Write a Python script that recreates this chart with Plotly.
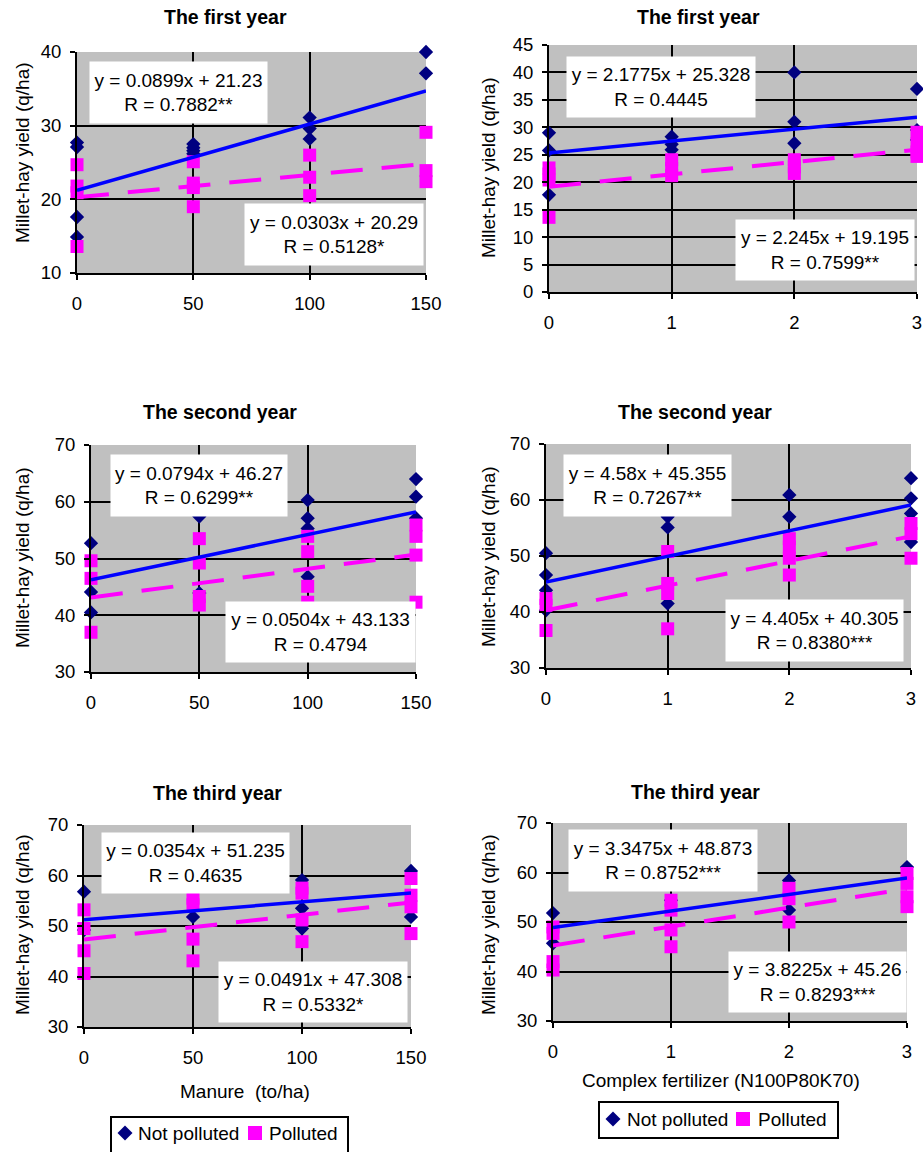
import plotly.graph_objects as go

W, H = 923, 1152

# ---------------- data ----------------
manure_doses = [0, 50, 100, 150]
fert_doses = [0, 1, 2, 3]
year_titles = ["The first year", "The second year", "The third year"]

# replicate yields (q/ha) per dose
manure_y1_not = [[27.7, 27.1, 17.6, 14.9], [27.5, 27.0, 26.6, 26.2], [31.1, 29.6, 28.2], [40.0, 37.1]]
manure_y1_pol = [[24.7, 21.8, 20.9, 13.6], [25.1, 22.2, 21.6, 19.0], [26.0, 23.0, 20.5], [29.1, 23.9, 22.4]]
fert_y1_not = [[29.0, 25.8, 17.7], [28.3, 26.9, 25.9], [40.0, 31.0, 27.1], [37.0, 29.5, 27.7]]
fert_y1_pol = [[22.6, 21.5, 20.4, 13.6], [24.1, 22.5, 21.2], [24.1, 22.8, 21.6], [29.1, 27.0, 25.5, 24.7]]

manure_y2_not = [[52.7, 44.1, 40.5], [57.4, 43.9], [60.3, 57.1, 55.3, 46.8], [64.0, 60.9, 57.1]]
manure_y2_pol = [[49.6, 46.5, 37.0], [53.5, 49.2, 43.3, 41.8], [53.9, 51.2, 45.1, 42.3], [55.9, 53.9, 50.6, 42.3]]
fert_y2_not = [[50.5, 46.6, 43.9, 40.3], [57.0, 55.1, 41.5], [60.9, 57.0], [63.9, 60.3, 57.6, 52.5]]
fert_y2_pol = [[42.4, 41.2, 36.7], [50.8, 45.1, 43.3, 37.0], [53.1, 51.6, 49.6, 46.6], [55.8, 54.0, 49.6]]

manure_y3_not = [[56.8, 49.2], [51.8], [59.1, 53.5, 49.5], [60.9, 51.8]]
manure_y3_pol = [[53.2, 49.5, 45.1, 40.6], [55.5, 54.2, 47.4, 43.1], [57.5, 56.5, 51.2, 46.9], [59.4, 56.1, 53.8, 48.5]]
fert_y3_not = [[51.8, 45.7], [54.4], [58.4, 52.4], [61.1]]
fert_y3_pol = [[49.0, 47.7, 42.0, 40.3], [54.4, 52.4, 48.4, 45.0], [56.8, 54.7, 50.0], [59.8, 57.8, 55.1, 53.1]]

# linear trends (per year)
manure_slope_not = [0.0899, 0.0794, 0.0354]
manure_icpt_not = [21.23, 46.27, 51.235]
manure_r_not = ["0.7882**", "0.6299**", "0.4635"]
manure_slope_pol = [0.0303, 0.0504, 0.0491]
manure_icpt_pol = [20.29, 43.133, 47.308]
manure_r_pol = ["0.5128*", "0.4794", "0.5332*"]
fert_slope_not = [2.1775, 4.58, 3.3475]
fert_icpt_not = [25.328, 45.355, 48.873]
fert_r_not = ["0.4445", "0.7267**", "0.8752***"]
fert_slope_pol = [2.245, 4.405, 3.8225]
fert_icpt_pol = [19.195, 40.305, 45.26]
fert_r_pol = ["0.7599**", "0.8380***", "0.8293***"]

legend_names = ["Not polluted", "Polluted"]
y_title = "Millet-hay yield (q/ha)"
x_titles = ["Manure\u00a0 (to/ha)", "Complex fertilizer (N100P80K70)"]

# y-axis ranges per panel
y_ranges = [[10, 40], [0, 45], [30, 70], [30, 70], [30, 70], [30, 70]]
y_dticks = [10, 5, 10, 10, 10, 10]

# ---------------- layout geometry (pixels) ----------------
domains_px = [  # (left, right, top, bottom)
    (77, 426, 52, 273), (549, 917, 45, 292),
    (91, 416, 445, 672), (546, 911, 444, 668),
    (84, 411, 825, 1027), (553, 907, 823, 1021),
]
boxes_not_px = [(90, 62, 267, 123), (567, 57, 755, 117), (111, 455, 287, 516),
                (564, 455, 731, 516), (102, 833, 289, 893), (569, 830, 757, 891)]
boxes_pol_px = [(245, 204, 423, 265), (736, 220, 914, 280), (226, 602, 415, 662),
                (726, 600, 903, 661), (219, 962, 407, 1022), (729, 952, 906, 1012)]
title_px = [(225, 17), (698, 17), (220, 412), (695, 412), (217, 793), (695, 792)]
ytitle_px = [(22, 153), (488, 168), (22, 558), (488, 557), (22, 925), (488, 925)]
xtitle_px = [(245, 1091), (721, 1080)]
# legend boxes: (left, top, right, bottom), symbol/text x positions, text centre y
legend_box_px = [(111, 1117, 348, 1156), (599, 1102, 838, 1138)]
legend_items_px = [  # (diamond cx, text1 x, square cx, text2 x, cy)
    (125, 136, 255, 267, 1133), (613, 625, 743, 756, 1119)]

FONT = "Liberation Sans, Arial, sans-serif"
NAVY = "#000080"
MAG = "#FF00FF"
BLUE = "#0000FF"


def fx(x):
    return x / W


def fy(y):
    return 1 - y / H


fig = go.Figure()

panels = []
for r in range(3):
    panels.append(("manure", r))
    panels.append(("fert", r))

data_not = {("manure", 0): manure_y1_not, ("manure", 1): manure_y2_not, ("manure", 2): manure_y3_not,
            ("fert", 0): fert_y1_not, ("fert", 1): fert_y2_not, ("fert", 2): fert_y3_not}
data_pol = {("manure", 0): manure_y1_pol, ("manure", 1): manure_y2_pol, ("manure", 2): manure_y3_pol,
            ("fert", 0): fert_y1_pol, ("fert", 1): fert_y2_pol, ("fert", 2): fert_y3_pol}

annotations = []
shapes = []
for i, (kind, r) in enumerate(panels):
    n = i + 1
    xref = "x" if n == 1 else f"x{n}"
    yref = "y" if n == 1 else f"y{n}"
    doses = manure_doses if kind == "manure" else fert_doses
    if kind == "manure":
        s_n, b_n, r_n = manure_slope_not[r], manure_icpt_not[r], manure_r_not[r]
        s_p, b_p, r_p = manure_slope_pol[r], manure_icpt_pol[r], manure_r_pol[r]
    else:
        s_n, b_n, r_n = fert_slope_not[r], fert_icpt_not[r], fert_r_not[r]
        s_p, b_p, r_p = fert_slope_pol[r], fert_icpt_pol[r], fert_r_pol[r]

    def flat(lst):
        xs, ys = [], []
        for d, vals in zip(doses, lst):
            for v in vals:
                xs.append(d)
                ys.append(v)
        return xs, ys

    xn, yn = flat(data_not[(kind, r)])
    xp, yp = flat(data_pol[(kind, r)])
    fig.add_trace(go.Scatter(x=xn, y=yn, mode="markers", name=legend_names[0],
                             marker=dict(symbol="diamond", size=11, color=NAVY),
                             cliponaxis=False, showlegend=False,
                             xaxis=xref, yaxis=yref))
    fig.add_trace(go.Scatter(x=xp, y=yp, mode="markers", name=legend_names[1],
                             marker=dict(symbol="square", size=13, color=MAG),
                             cliponaxis=False, showlegend=False,
                             xaxis=xref, yaxis=yref))
    x0, x1 = doses[0], doses[-1]
    fig.add_trace(go.Scatter(x=[x0, x1], y=[b_n + s_n * x0, b_n + s_n * x1], mode="lines",
                             line=dict(color=BLUE, width=3.5), showlegend=False,
                             cliponaxis=False, xaxis=xref, yaxis=yref))
    fig.add_trace(go.Scatter(x=[x0, x1], y=[b_p + s_p * x0, b_p + s_p * x1], mode="lines",
                             line=dict(color=MAG, width=4, dash="32px,19px"), showlegend=False,
                             cliponaxis=False, xaxis=xref, yaxis=yref))

    L, R, T, B = domains_px[i]
    axis_common = dict(showgrid=True, gridcolor="black", gridwidth=2,
                       showline=True, linecolor="black", linewidth=2,
                       ticks="outside", ticklen=5, tickwidth=2, tickcolor="black",
                       tickfont=dict(family=FONT, size=18.5, color="black"),
                       zeroline=False, automargin=False, fixedrange=True)
    xkey = "xaxis" if n == 1 else f"xaxis{n}"
    ykey = "yaxis" if n == 1 else f"yaxis{n}"
    fig.update_layout({
        xkey: dict(domain=[fx(L), fx(R)], range=[doses[0], doses[-1]],
                   tickmode="array", tickvals=doses, anchor=yref,
                   ticklabelstandoff=8, **axis_common),
        ykey: dict(domain=[fy(B), fy(T)], range=y_ranges[i], dtick=y_dticks[i], tick0=0,
                   anchor=xref, ticklabelstandoff=5, **axis_common),
    })

    for (bx0, by0, bx1, by1), txt in [
        (boxes_not_px[i], f"y = {s_n:g}x + {b_n:g}<br>R = {r_n}"),
        (boxes_pol_px[i], f"y = {s_p:g}x + {b_p:g}<br>R = {r_p}"),
    ]:
        annotations.append(dict(
            xref="paper", yref="paper", x=fx((bx0 + bx1) / 2), y=fy((by0 + by1) / 2),
            xanchor="center", yanchor="middle", text=txt, showarrow=False,
            width=bx1 - bx0, height=by1 - by0, bgcolor="white", borderpad=0,
            align="center", valign="middle",
            font=dict(family=FONT, size=19, color="black")))

    tx, ty = title_px[i]
    annotations.append(dict(xref="paper", yref="paper", x=fx(tx), y=fy(ty),
                            xanchor="center", yanchor="middle", showarrow=False,
                            text=f"<b>{year_titles[r]}</b>",
                            font=dict(family=FONT, size=19.5, color="black")))
    yx, yy = ytitle_px[i]
    annotations.append(dict(xref="paper", yref="paper", x=fx(yx), y=fy(yy),
                            xanchor="center", yanchor="middle", showarrow=False,
                            textangle=-90, text=y_title,
                            font=dict(family=FONT, size=19, color="black")))

for (tx, ty), txt in zip(xtitle_px, x_titles):
    annotations.append(dict(xref="paper", yref="paper", x=fx(tx), y=fy(ty),
                            xanchor="center", yanchor="middle", showarrow=False,
                            text=txt, font=dict(family=FONT, size=19, color="black")))

# legends (one under each column)
for (lx0, ly0, lx1, ly1), (dcx, t1x, scx, t2x, cy) in zip(legend_box_px, legend_items_px):
    shapes.append(dict(type="rect", xref="paper", yref="paper",
                       x0=fx(lx0), x1=fx(lx1), y0=fy(ly1), y1=fy(ly0),
                       line=dict(color="black", width=2), fillcolor="white", layer="above"))
    d = 7.5
    shapes.append(dict(type="path", xref="paper", yref="paper", layer="above",
                       path=(f"M {fx(dcx - d)} {fy(cy)} L {fx(dcx)} {fy(cy - d)} "
                             f"L {fx(dcx + d)} {fy(cy)} L {fx(dcx)} {fy(cy + d)} Z"),
                       fillcolor=NAVY, line=dict(width=0)))
    s = 7
    shapes.append(dict(type="rect", xref="paper", yref="paper", layer="above",
                       x0=fx(scx - s), x1=fx(scx + s), y0=fy(cy + s), y1=fy(cy - s),
                       fillcolor=MAG, line=dict(width=0)))
    for tx, txt in [(t1x, legend_names[0]), (t2x, legend_names[1])]:
        annotations.append(dict(xref="paper", yref="paper", x=fx(tx), y=fy(cy),
                                xanchor="left", yanchor="middle", showarrow=False,
                                text=txt, font=dict(family=FONT, size=19, color="black")))

fig.update_layout(
    width=W, height=H,
    margin=dict(l=0, r=0, t=0, b=0),
    paper_bgcolor="white",
    plot_bgcolor="#C0C0C0",
    font=dict(family=FONT, size=18, color="black"),
    annotations=annotations,
    shapes=shapes,
    showlegend=False,
)

fig.write_html(
    "out.html",
    config={"displayModeBar": False},
    post_script="document.body.style.margin='0';document.body.style.overflow='hidden';",
)
